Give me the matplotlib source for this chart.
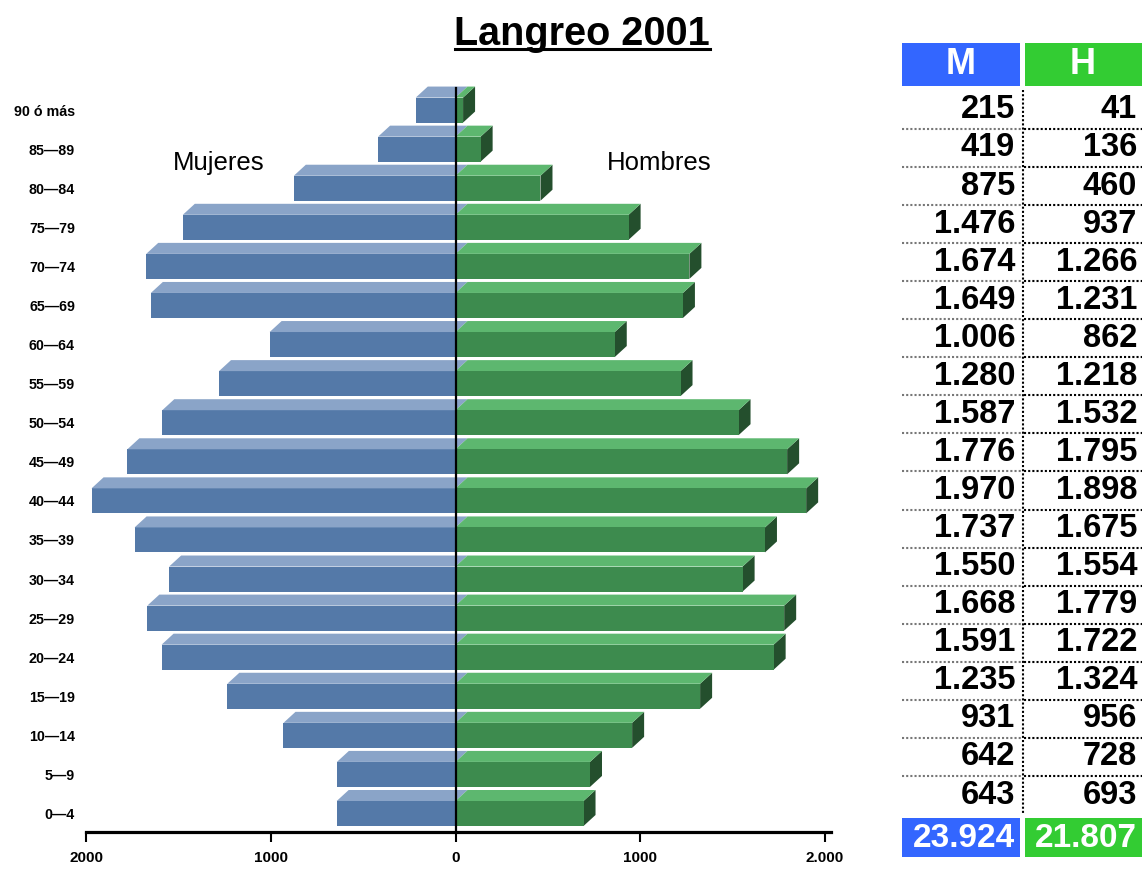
import matplotlib
matplotlib.use('Agg')
import matplotlib.pyplot as plt
from matplotlib.patches import Polygon, Rectangle
from matplotlib.lines import Line2D

# Datos: grupos de edad (de abajo hacia arriba) y población
grupos = ['0—4', '5—9', '10—14', '15—19', '20—24', '25—29', '30—34', '35—39',
          '40—44', '45—49', '50—54', '55—59', '60—64', '65—69', '70—74',
          '75—79', '80—84', '85—89', '90 ó más']
mujeres = [643, 642, 931, 1235, 1591, 1668, 1550, 1737, 1970, 1776,
           1587, 1280, 1006, 1649, 1674, 1476, 875, 419, 215]
hombres = [693, 728, 956, 1324, 1722, 1779, 1554, 1675, 1898, 1795,
           1532, 1218, 862, 1231, 1266, 937, 460, 136, 41]
total_m = '23.924'
total_h = '21.807'
ticks_x = [-2000, -1000, 0, 1000, 2000]
ticks_lbl = ['2000', '1000', '0', '1000', '2.000']

FUENTE = ['Liberation Sans', 'DejaVu Sans']

azul, azul_top = '#5479a8', '#8aa4c8'
verde, verde_top, verde_lado = '#3d8b4e', '#5db76f', '#244f2d'

W, H = 1142, 872
fig = plt.figure(figsize=(W / 100, H / 100), dpi=100)

# Pirámide
ax = fig.add_axes([86 / W, 40 / H, 739 / W, 752 / H])
paso = 39.08
y_min = -(832 - 813.5) / paso
ax.set_xlim(-2000, 2000)
ax.set_ylim(y_min, y_min + 752 / paso)

h = 25 / paso / 2      # media altura de la cara frontal
dx = 12 / 739 * 4000   # desplazamiento de profundidad
dy = 11 / paso

for i in range(len(grupos) - 1, -1, -1):
    m, v = mujeres[i], hombres[i]
    lo, hi = i - h, i + h
    # mujeres
    ax.add_patch(Rectangle((-m, lo), m, 2 * h, facecolor=azul, edgecolor='none', zorder=2))
    ax.add_patch(Polygon([(-m, hi), (0, hi), (dx, hi + dy), (-m + dx, hi + dy)],
                         closed=True, facecolor=azul_top, edgecolor='none', zorder=2))
    # hombres
    ax.add_patch(Polygon([(v, lo), (v + dx, lo + dy), (v + dx, hi + dy), (v, hi)],
                         closed=True, facecolor=verde_lado, edgecolor='none', zorder=3))
    ax.add_patch(Polygon([(0, hi), (v, hi), (v + dx, hi + dy), (dx, hi + dy)],
                         closed=True, facecolor=verde_top, edgecolor='none', zorder=3))
    ax.add_patch(Rectangle((0, lo), v, 2 * h, facecolor=verde, edgecolor='none', zorder=3))

# eje central
y_top_linea = (813.5 - 88) / paso
ax.plot([0, 0], [y_min, y_top_linea], color='black', lw=1.6, zorder=5, clip_on=False)

for s in ['top', 'right', 'left']:
    ax.spines[s].set_visible(False)
ax.spines['bottom'].set_linewidth(2.3)
ax.spines['bottom'].set_bounds(-2000, 2035)
ax.set_xticks(ticks_x)
ax.set_xticklabels(ticks_lbl, family=FUENTE, fontsize=11, fontweight='bold')
ax.tick_params(axis='x', direction='out', length=7.5, width=1.5, pad=6)
ax.set_yticks(range(len(grupos)))
ax.set_yticklabels(grupos, family=FUENTE, fontsize=10.3, fontweight='bold')
ax.tick_params(axis='y', length=0, pad=8)

ax.text(-1283, 16.65, 'Mujeres', family=FUENTE, fontsize=18.5,
        ha='center', va='center')
ax.text(1104, 16.65, 'Hombres', family=FUENTE, fontsize=18.5,
        ha='center', va='center')

# Título subrayado
fig.text(582 / W, 1 - 34 / H, 'Langreo 2001', family=FUENTE, fontweight='bold',
         fontsize=28.5, ha='center', va='center')
fig.add_artist(Line2D([455 / W, 710 / W], [1 - 49.5 / H] * 2, color='black', lw=2.2))

# Tabla
at = fig.add_axes([0, 0, 1, 1])
at.set_xlim(0, W)
at.set_ylim(H, 0)
at.axis('off')
paso_t = 38.06
def fila(i):
    return 795 - paso_t * i

at.add_patch(Rectangle((902, 43), 118, 43, facecolor='#3366ff', edgecolor='none'))
at.add_patch(Rectangle((1025, 43), 117, 43, facecolor='#33cc33', edgecolor='none'))
at.text(961, 65, 'M', color='white', family=FUENTE, fontweight='bold', fontsize=26,
        ha='center', va='center')
at.text(1083, 65, 'H', color='white', family=FUENTE, fontweight='bold', fontsize=26,
        ha='center', va='center')

for i in range(len(grupos)):
    y = fila(i)
    at.text(1015, y, f'{mujeres[i]:,}'.replace(',', '.'), family=FUENTE, fontweight='bold',
            fontsize=23.5, ha='right', va='center')
    at.text(1137, y, f'{hombres[i]:,}'.replace(',', '.'), family=FUENTE, fontweight='bold',
            fontsize=23.5, ha='right', va='center')
    if i > 0:
        ys = y + paso_t / 2
        at.plot([902, 1022], [ys, ys], color='#777777', lw=1.5, ls=(0, (1, 1)))
        at.plot([1024, 1142], [ys, ys], color='black', lw=1.5, ls=(0, (1, 1)))
at.plot([1023, 1023], [90, 814], color='black', lw=1.5, ls=(0, (1, 1)))

at.add_patch(Rectangle((902, 818), 118, 39, facecolor='#3366ff', edgecolor='none'))
at.add_patch(Rectangle((1025, 818), 117, 39, facecolor='#33cc33', edgecolor='none'))
at.text(1015, 838, total_m, color='white', family=FUENTE, fontweight='bold', fontsize=24,
        ha='right', va='center')
at.text(1137, 838, total_h, color='white', family=FUENTE, fontweight='bold', fontsize=24,
        ha='right', va='center')

fig.savefig('out.png', dpi=100)
